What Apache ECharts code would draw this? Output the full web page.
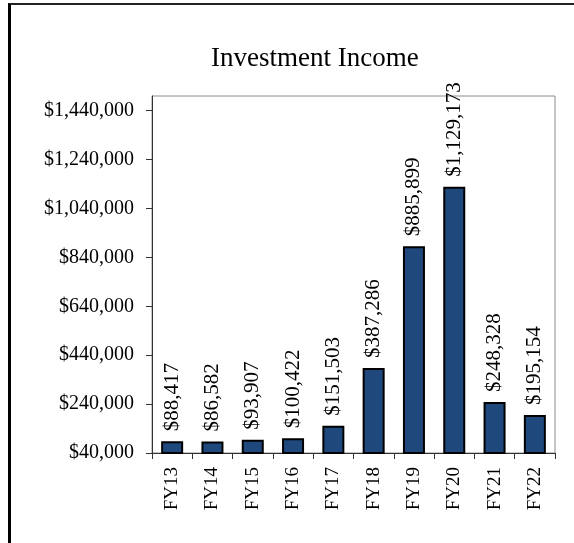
<!DOCTYPE html>
<html>
<head>
<meta charset="utf-8">
<script src="https://cdn.jsdelivr.net/npm/echarts@6/dist/echarts.min.js"></script>
<style>
  html, body { margin: 0; padding: 0; background: #fff; }
  #wrap { position: relative; width: 574px; height: 543px; }
  #chart { position: absolute; left: 0; top: 0; width: 574px; height: 543px; }
  #frame { position: absolute; left: 8px; top: 3px; width: 566px; height: 540px;
           border-top: 2px solid #222; border-left: 3px solid #000; box-sizing: border-box; pointer-events: none; }
</style>
</head>
<body>
<div id="wrap">
  <div id="chart"></div>
  <div id="frame"></div>
</div>
<script>
const categories = ['FY13', 'FY14', 'FY15', 'FY16', 'FY17', 'FY18', 'FY19', 'FY20', 'FY21', 'FY22'];
const incomeValues = [88417, 86582, 93907, 100422, 151503, 387286, 885899, 1129173, 248328, 195154];
const yTickValues = [40000, 240000, 440000, 640000, 840000, 1040000, 1240000, 1440000];
const titleText = 'Investment Income';

const fmt = v => '$' + Number(v).toLocaleString('en-US');
const serif = 'Liberation Serif, Times New Roman, serif';

const chart = echarts.init(document.getElementById('chart'), null, { renderer: 'canvas' });
chart.setOption({
  animation: false,
  backgroundColor: '#fff',
  title: {
    text: titleText,
    left: 206,
    top: 40,
    textStyle: { fontFamily: serif, fontSize: 27, fontWeight: 'normal', color: '#000' }
  },
  grid: {
    left: 152, top: 96, right: 19, bottom: 90,
    show: true, borderColor: '#8c8c8c', borderWidth: 1, backgroundColor: '#fff'
  },
  xAxis: {
    type: 'category',
    data: categories,
    boundaryGap: true,
    axisLine: { lineStyle: { color: '#333', width: 1 } },
    axisTick: { show: true, length: 6, lineStyle: { color: '#333' } },
    axisLabel: {
      rotate: 90, margin: 14, color: '#000',
      fontFamily: serif, fontSize: 19
    }
  },
  yAxis: {
    type: 'value',
    min: 40000, max: 1500000,
    splitLine: { show: false },
    axisLine: { show: true, lineStyle: { color: '#333', width: 1 } },
    axisTick: { show: true, length: 6, lineStyle: { color: '#333' }, customValues: yTickValues },
    axisLabel: {
      customValues: yTickValues,
      formatter: fmt, margin: 18, color: '#000',
      fontFamily: serif, fontSize: 20
    }
  },
  series: [{
    type: 'bar',
    data: incomeValues,
    barWidth: 22,
    itemStyle: { color: '#1F497D', borderColor: '#000', borderWidth: 2 },
    label: {
      show: true, position: 'top', rotate: 90, align: 'left', verticalAlign: 'middle',
      distance: 10, formatter: p => fmt(p.value),
      fontFamily: serif, fontSize: 21, color: '#000'
    }
  }]
});
</script>
</body>
</html>
